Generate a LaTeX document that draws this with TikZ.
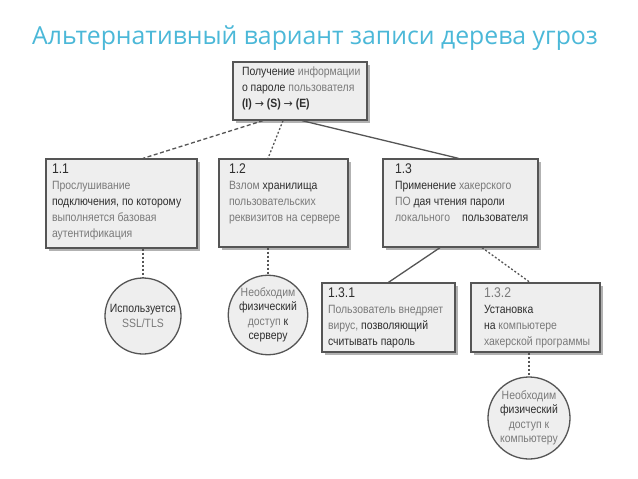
\documentclass[tikz,border=0pt]{standalone}
\usepackage{fontspec}
\setmainfont{Liberation Sans}[FakeStretch=0.87]
\newfontfamily\titlefont{Open Sans}
\newfontfamily\arrowfont{DejaVu Sans}
\usetikzlibrary{shadows}
\definecolor{titlecyan}{HTML}{4BB8D8}
\definecolor{linegray}{HTML}{555555}
\definecolor{boxfill}{HTML}{EEEEEE}
\definecolor{txtdark}{HTML}{2E2E2E}
\definecolor{txtlight}{HTML}{7A7A7A}
\newcommand{\dk}[1]{\textcolor{txtdark}{#1}}
\newcommand{\lt}[1]{\textcolor{txtlight}{#1}}
\newcommand{\boxcontent}[4]{\hbox to #1{\hspace*{#3}\parbox[c][#2][t]{\dimexpr#1-#3-2pt\relax}{\raggedright\fontsize{12}{16}\selectfont #4}\hss}}
\newcommand{\numline}[1]{{\fontsize{14}{16}\selectfont #1}\\}
\newcommand{\arr}{{\arrowfont\fontsize{11}{16}\selectfont →}}
\tikzset{
  treebox/.style={draw=linegray, line width=1.3pt, fill=boxfill, inner sep=0pt,
    drop shadow={shadow xshift=2.5pt, shadow yshift=-2.5pt, fill=black!30, opacity=1}},
  leafcircle/.style={circle, draw=linegray, line width=1.3pt, fill=boxfill, inner sep=0pt,
    align=center, font=\fontsize{12}{14.5}\selectfont},
  solidline/.style={draw=linegray, line width=1.3pt},
  dashline/.style={draw=linegray, line width=1.3pt, dash pattern=on 4pt off 2.5pt},
  dotline/.style={draw=linegray, line width=1.3pt, dash pattern=on 2pt off 2pt},
  titletext/.style={font=\titlefont\fontsize{24.8}{28}\selectfont, text=titlecyan, inner sep=0pt, anchor=base west}
}
\begin{document}
\begin{tikzpicture}[x=1pt,y=-1pt]
\useasboundingbox[fill=white] (0,0) rectangle (638,479);
\node[titletext] (title) at (32,45) {Альтернативный вариант записи дерева угроз};

\node[treebox, minimum width=134pt, minimum height=58pt] (root) at (300,91)
  {\boxcontent{134pt}{48pt}{9pt}{\dk{Получение} \lt{информации}\\
   \dk{о пароле} \lt{пользователя}\\
   \dk{\textbf{(I)} \arr\ \textbf{(S)} \arr\ \textbf{(E)}}}};

\node[treebox, minimum width=151pt, minimum height=89pt] (b11) at (121.5,203.5)
  {\boxcontent{151pt}{80pt}{6pt}{\numline{\dk{1.1}}\lt{Прослушивание}\\
   \dk{подключения, по которому}\\ \lt{выполняется базовая}\\ \lt{аутентификация}}};

\node[treebox, minimum width=129pt, minimum height=88pt] (b12) at (283.5,203)
  {\boxcontent{129pt}{79pt}{10pt}{\numline{\dk{1.2}}\lt{Взлом} \dk{хранилища}\\
   \lt{пользовательских}\\ \lt{реквизитов на сервере}}};

\node[treebox, minimum width=155pt, minimum height=88pt] (b13) at (460.5,203)
  {\boxcontent{155pt}{79pt}{12pt}{\numline{\dk{1.3}}\dk{Применение} \lt{хакерского}\\
   \lt{ПО} \dk{дая чтения пароли}\\ \lt{локального}\quad\dk{пользователя}}};

\node[treebox, minimum width=133pt, minimum height=69pt] (b131) at (388.5,317.5)
  {\boxcontent{133pt}{60pt}{6pt}{\numline{\dk{1.3.1}}\lt{Пользователь внедряет}\\
   \lt{вирус,} \dk{позволяющий}\\ \dk{считывать пароль}}};

\node[treebox, minimum width=129pt, minimum height=69pt] (b132) at (535.5,317.5)
  {\boxcontent{129pt}{60pt}{13pt}{\numline{\lt{1.3.2}}\dk{Установка}\\
   \dk{на} \lt{компьютере}\\ \lt{хакерской программы}}};

\node[leafcircle, minimum size=76pt] (c1) at (143,316)
  {\dk{Используется}\\ \lt{SSL/TLS}};
\node[leafcircle, minimum size=72pt] (c2) at (268,315)
  {\lt{Необходим}\\ \dk{физический}\\ \lt{доступ} \dk{к}\\ \dk{серверу}};
\node[leafcircle, minimum size=82pt] (c3) at (529,418)
  {\lt{Необходим}\\ \dk{физический}\\ \lt{доступ к}\\ \lt{компьютеру}};

\draw[dashline] ([xshift=-37pt]root.south) -- ([xshift=21.5pt]b11.north);
\draw[dotline] ([xshift=-17pt]root.south) -- ([xshift=-15.5pt]b12.north);
\draw[solidline] ([xshift=2pt]root.south) -- ([xshift=-2pt]b13.north);
\draw[dotline] ([xshift=21.5pt]b11.south) -- (c1.north);
\draw[dotline] ([xshift=-15.5pt]b12.south) -- (c2.north);
\draw[solidline] ([xshift=-20.5pt]b13.south) -- (b131.north);
\draw[dotline] ([xshift=21.5pt]b13.south) -- ([xshift=-5.5pt]b132.north);
\draw[dotline] ([xshift=-6.5pt]b132.south) -- (c3.north);
\end{tikzpicture}
\end{document}
